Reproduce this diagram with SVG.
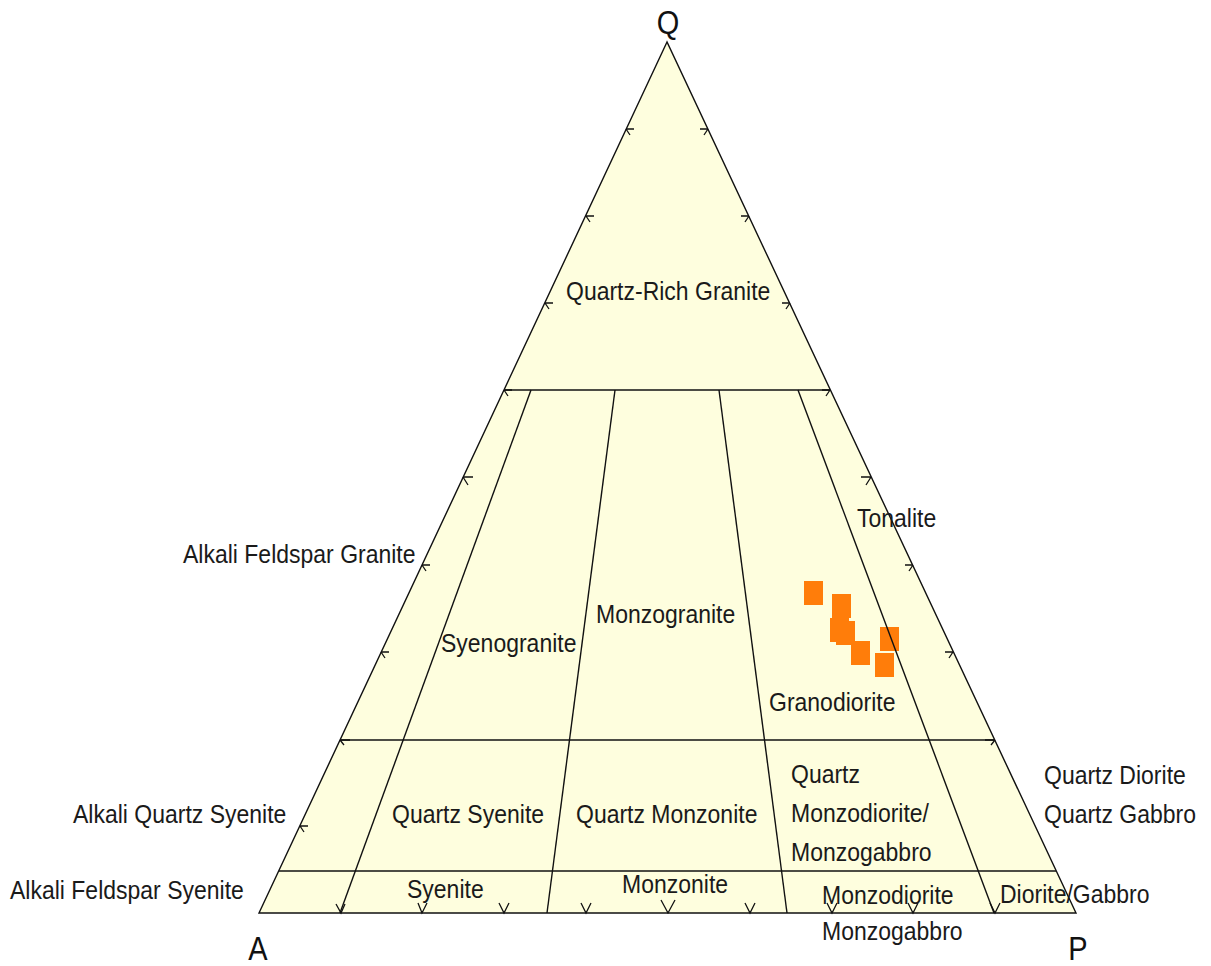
<svg xmlns="http://www.w3.org/2000/svg" width="1211" height="966" viewBox="0 0 1211 966">
<style>
.ln{fill:none;stroke:#111;stroke-width:1.4}
.tk{fill:none;stroke:#111;stroke-width:1.3}
.lb{font-family:"Liberation Sans",Arial,sans-serif;font-size:23px;fill:#1a1a1a}
.ax{font-family:"Liberation Sans",Arial,sans-serif;font-size:29px;fill:#111}
.pt{fill:#FF7D0A}
</style>
<rect width="1211" height="966" fill="#ffffff"/>
<g id="field">
<polygon points="667,42 259,913 1076,913" fill="#FEFEDE"/>
</g>
<g id="data">
<rect class="pt" x="804" y="581" width="19" height="24"/>
<rect class="pt" x="832" y="594" width="19" height="24"/>
<rect class="pt" x="830" y="618" width="19" height="24"/>
<rect class="pt" x="836" y="621" width="19" height="24"/>
<rect class="pt" x="851" y="641" width="19" height="24"/>
<rect class="pt" x="880" y="627" width="19" height="24"/>
<rect class="pt" x="875" y="653" width="19" height="24"/>
</g>
<g id="connectors">
<polygon class="ln" points="667,42 259,913 1076,913"/>
<line class="ln" x1="504" y1="390" x2="830" y2="390"/>
<line class="ln" x1="340" y1="740" x2="995" y2="740"/>
<line class="ln" x1="279" y1="871" x2="1056" y2="871"/>
<line class="ln" x1="531" y1="390" x2="340" y2="913"/>
<line class="ln" x1="615" y1="390" x2="547" y2="913"/>
<line class="ln" x1="719" y1="390" x2="787" y2="913"/>
<line class="ln" x1="798" y1="390" x2="994" y2="913"/>
</g>
<g id="ticks">
<path class="tk" d="M626,129 h8 M626,129 l4,6 M586,216 h8 M586,216 l4,6 M545,303 h8 M545,303 l4,6 M504,390 h8 M504,390 l4,6 M463,477 h10 M463,477 l5,8 M422,565 h8 M422,565 l4,6 M381,652 h8 M381,652 l4,6 M340,740 h10 M340,740 l4,5 M300,826 h8 M300,826 l4,6"/>
<path class="tk" d="M708,129 h-8 M708,129 l-4,6 M749,216 h-8 M749,216 l-4,6 M790,303 h-8 M790,303 l-4,6 M830,390 h-8 M830,390 l-4,6 M871,477 h-10 M871,477 l-5,8 M913,565 h-8 M913,565 l-4,6 M953,652 h-8 M953,652 l-4,6 M995,740 h-10 M995,740 l-4,5"/>
<path class="tk" d="M336,904 L341,913 L345,904 M418,903 L422,913 L427,903 M499,903 L504,913 L509,903 M581,903 L586,913 L591,903 M661,900 L668,913 L675,900 M745,903 L750,913 L755,903 M827,903 L832,913 L837,903 M908,903 L913,913 L918,903 M990,903 L995,913 L1000,903"/>
</g>
<g id="labels">
<text class="ax" transform="translate(668,34) scale(1,1.12)" text-anchor="middle" font-size="26">Q</text>
<text class="ax" transform="translate(258,960) scale(1,1.12)" text-anchor="middle">A</text>
<text class="ax" transform="translate(1078,960) scale(1,1.12)" text-anchor="middle">P</text>
<text class="lb" transform="translate(566,300) scale(1,1.12)">Quartz-Rich Granite</text>
<text class="lb" transform="translate(183,563) scale(1,1.12)">Alkali Feldspar Granite</text>
<text class="lb" transform="translate(441,652) scale(1,1.12)">Syenogranite</text>
<text class="lb" transform="translate(596,623) scale(1,1.12)">Monzogranite</text>
<text class="lb" transform="translate(857,527) scale(1,1.12)">Tonalite</text>
<text class="lb" transform="translate(769,711) scale(1,1.12)">Granodiorite</text>
<text class="lb" transform="translate(73,823) scale(1,1.12)">Alkali Quartz Syenite</text>
<text class="lb" transform="translate(392,823) scale(1,1.12)">Quartz Syenite</text>
<text class="lb" transform="translate(576,823) scale(1,1.12)">Quartz Monzonite</text>
<text class="lb" transform="translate(791,783) scale(1,1.12)">Quartz</text>
<text class="lb" transform="translate(791,822) scale(1,1.12)">Monzodiorite/</text>
<text class="lb" transform="translate(791,861) scale(1,1.12)">Monzogabbro</text>
<text class="lb" transform="translate(1044,784) scale(1,1.12)">Quartz Diorite</text>
<text class="lb" transform="translate(1044,823) scale(1,1.12)">Quartz Gabbro</text>
<text class="lb" transform="translate(10,899) scale(1,1.12)">Alkali Feldspar Syenite</text>
<text class="lb" transform="translate(407,898) scale(1,1.12)">Syenite</text>
<text class="lb" transform="translate(622,893) scale(1,1.12)">Monzonite</text>
<text class="lb" transform="translate(822,904) scale(1,1.12)">Monzodiorite</text>
<text class="lb" transform="translate(1000,903) scale(1,1.12)">Diorite/Gabbro</text>
<text class="lb" transform="translate(822,940) scale(1,1.12)">Monzogabbro</text>
</g>
</svg>
